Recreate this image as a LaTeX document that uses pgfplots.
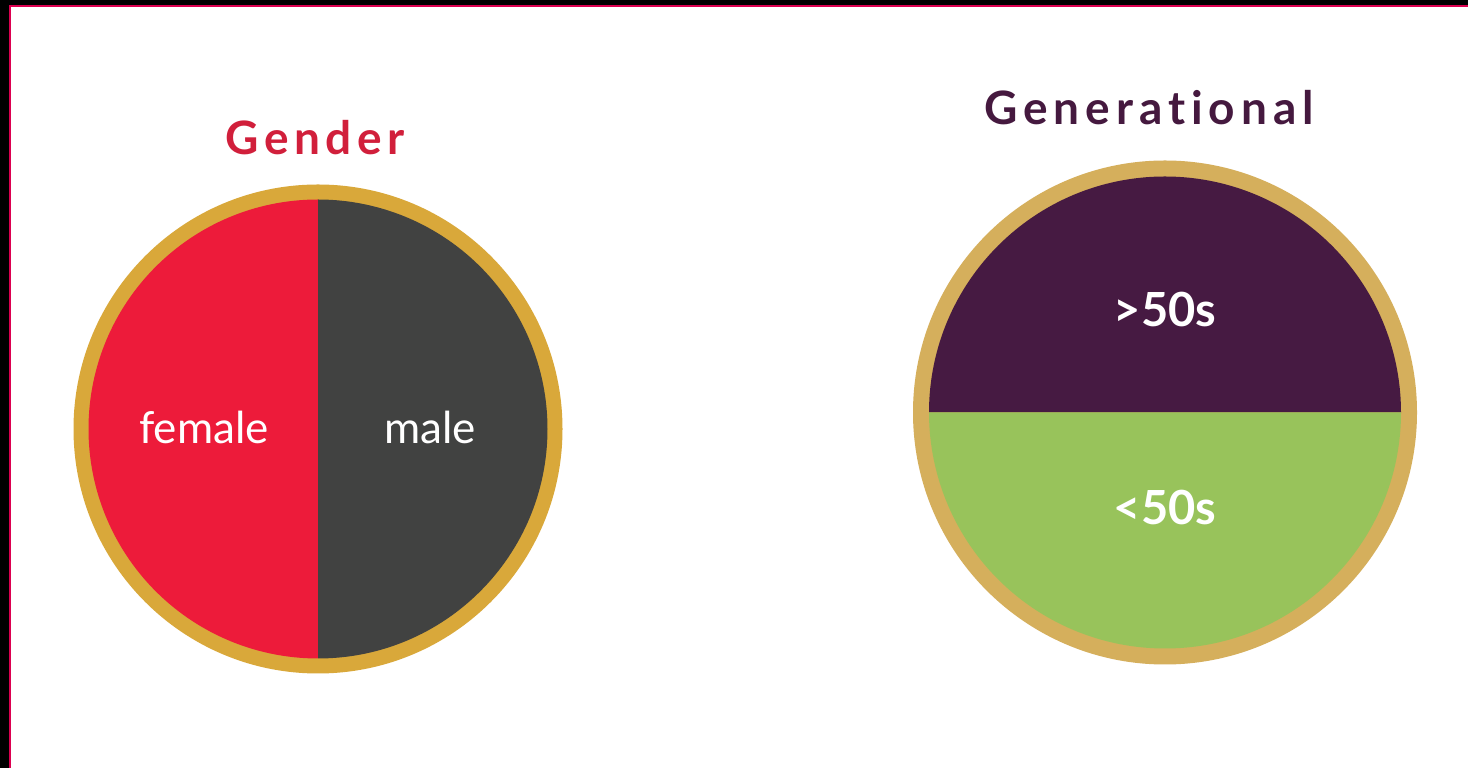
\documentclass[border=0pt]{standalone}
\usepackage{fontspec}
\setmainfont{Lato}[Ligatures=NoCommon]
\usepackage{pgfplots}
\usepackage{pgfplotstable}
\pgfplotsset{compat=1.18}
\definecolor{fem}{HTML}{ED1B3A}
\definecolor{mal}{HTML}{414241}
\definecolor{goldA}{HTML}{D9A83A}
\definecolor{goldB}{HTML}{D5AF5C}
\definecolor{old}{HTML}{461A42}
\definecolor{young}{HTML}{98C35B}
\definecolor{titleRed}{HTML}{D11F3B}
\definecolor{titlePurple}{HTML}{45193F}
\definecolor{frame}{HTML}{DC0050}

% gender shares (percent)
\pgfplotstableread{
label value
female 50
male 50
}\gendertable
% generational shares (percent)
\pgfplotstableread{
label value
older 50
younger 50
}\gentable

\begin{document}
\begin{tikzpicture}
\pgfplotstablegetelem{0}{value}\of\gendertable \let\gF=\pgfplotsretval
\pgfplotstablegetelem{1}{value}\of\gendertable \let\gM=\pgfplotsretval
\pgfplotstablegetelem{0}{value}\of\gentable \let\gO=\pgfplotsretval
\pgfplotstablegetelem{1}{value}\of\gentable \let\gY=\pgfplotsretval
\pgfmathsetmacro\aF{90+3.6*\gF}
\pgfmathsetmacro\aM{\aF+3.6*\gM}
\pgfmathsetmacro\aO{180-3.6*\gO}
\pgfmathsetmacro\aY{\aO-3.6*\gY}
\begin{axis}[
  x=1pt, y=1pt,
  xmin=0, xmax=1468, ymin=0, ymax=768,
  hide axis, clip=false,
  axis line style={draw=none},
]
% background and frame
\fill[white] (axis cs:0,0) rectangle (axis cs:1468,768);
\fill[black] (axis cs:0,0) rectangle (axis cs:9,768);
\fill[black] (axis cs:0,763) rectangle (axis cs:1468,768);
\fill[frame] (axis cs:9,0) rectangle (axis cs:11,763);
\fill[frame] (axis cs:9,761) rectangle (axis cs:1468,763);

% Gender pie
\fill[goldA] (axis cs:318,339) circle[radius=244.5pt];
\fill[fem] (axis cs:318,339) -- ++(90:229.5pt) arc[start angle=90, end angle=\aF, radius=229.5pt] -- cycle;
\fill[mal] (axis cs:318,339) -- ++(\aF:229.5pt) arc[start angle=\aF, end angle=\aM, radius=229.5pt] -- cycle;

% Generational pie
\fill[goldB] (axis cs:1165,355.5) circle[radius=252pt];
\fill[old] (axis cs:1165,355.5) -- ++(180:236pt) arc[start angle=180, end angle=\aO, radius=236pt] -- cycle;
\fill[young] (axis cs:1165,355.5) -- ++(\aO:236pt) arc[start angle=\aO, end angle=\aY, radius=236pt] -- cycle;

% titles
\node[anchor=base, text=titleRed, font=\fontsize{46}{50}\selectfont\bfseries\addfontfeatures{LetterSpace=12}] at (axis cs:315,613) {Gender};
\node[anchor=base, text=titlePurple, font=\fontsize{46}{50}\selectfont\bfseries\addfontfeatures{LetterSpace=13}] at (axis cs:1149,643) {Generational};

% labels
\node[anchor=base, text=white, font=\fontsize{44}{48}\selectfont] at (axis cs:204,324) {female};
\node[anchor=base, text=white, font=\fontsize{44}{48}\selectfont] at (axis cs:430,324) {male};
\node[anchor=base, text=white, font=\fontsize{47}{50}\selectfont\bfseries] at (axis cs:1165,441) {>50s};
\node[anchor=base, text=white, font=\fontsize{47}{50}\selectfont\bfseries] at (axis cs:1165,243) {<50s};
\end{axis}
\end{tikzpicture}
\end{document}
